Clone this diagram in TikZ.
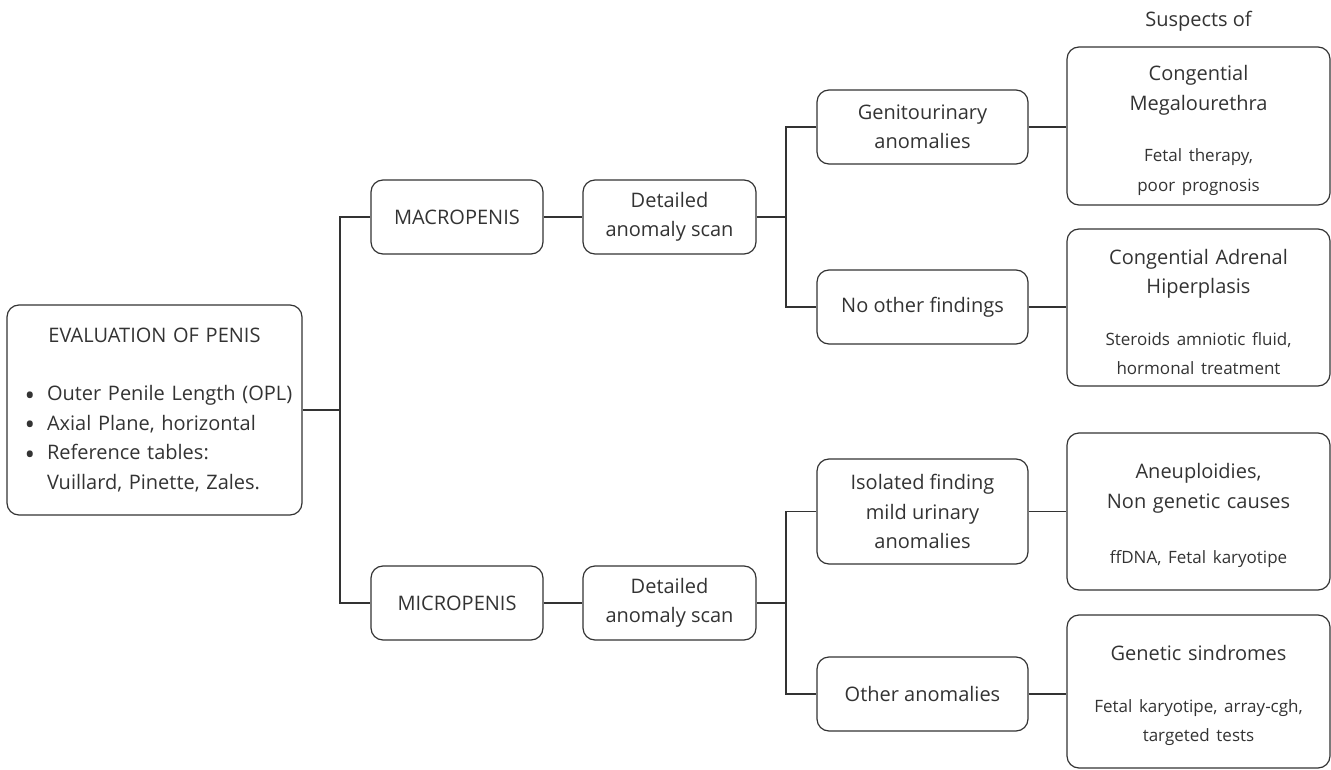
\documentclass[tikz,border=0pt]{standalone}
\usepackage{fontspec}
\setmainfont{Open Sans}
\usepackage{tikz}
\usetikzlibrary{calc}
\setlength{\parindent}{0pt}
\definecolor{ink}{HTML}{333333}
\newcommand{\titlefont}{\fontsize{20}{29.5}\selectfont}
\newcommand{\notefont}{\fontsize{17}{25.5}\selectfont}
\newcommand{\dotitem}{\hspace*{10pt}\makebox[22.5pt][l]{\raisebox{-4.5pt}[0pt][0pt]{\fontsize{28}{0}\selectfont\textbullet}}}
\newcommand{\noitem}{\hspace*{10pt}\makebox[22.5pt][l]{}}
\newcommand{\toppad}{\rule{0pt}{24pt}}
\tikzset{
	box/.style={draw=ink, line width=1.2pt, rounded corners=12pt, text=ink, align=center, inner sep=0pt, font=\titlefont},
	stepbox/.style={box, minimum width=172pt, minimum height=74pt},
	findbox/.style={box, minimum width=211pt, minimum height=74pt},
	suspbox/.style={box, minimum width=263pt, text width=258pt},
	link/.style={draw=ink, line width=1.2pt},
}

\begin{document}
\begin{tikzpicture}[x=1pt, y=-1pt]
		%%%%% START %%%%%
		\useasboundingbox (0,0) rectangle (1331,770);
		
		\node[box, minimum width=295pt, minimum height=210pt, text width=280pt] (eval) at (154.5,410) {EVALUATION OF PENIS\par\vspace{28.5pt}\raggedright
			\dotitem Outer Penile Length (OPL)\\
			\dotitem Axial Plane, horizontal\\
			\dotitem Reference tables:\\
			\noitem Vuillard, Pinette, Zales.\par};
		
		\node[stepbox] (macro) at (457,217) {MACROPENIS};
		\node[stepbox, minimum width=173pt] (detA) at (669.5,217) {Detailed\\anomaly scan};
		\node[stepbox] (micro) at (457,603) {MICROPENIS};
		\node[stepbox, minimum width=173pt] (detB) at (669.5,603) {Detailed\\anomaly scan};
		
		\node[findbox] (genito) at (922.5,127) {Genitourinary\\anomalies};
		\node[findbox] (nofind) at (922.5,307) {No other findings};
		\node[findbox, minimum height=105pt] (isol) at (922.5,511.5) {Isolated finding\\mild urinary\\anomalies};
		\node[findbox] (other) at (922.5,694) {Other anomalies};
		
		\node[text=ink, font=\titlefont] (suspects) at (1198.5,21) {Suspects of};
		\node[suspbox, minimum height=158pt] (megal) at (1198.5,126) {\toppad Congential\\Megalourethra\par\vspace{26pt}\notefont Fetal therapy,\\poor prognosis};
		\node[suspbox, minimum height=157pt] (adren) at (1198.5,307.5) {\toppad Congential Adrenal\\Hiperplasis\par\vspace{26pt}\notefont Steroids amniotic fluid,\\hormonal treatment};
		\node[suspbox, minimum height=157pt] (aneu) at (1198.5,511.5) {\toppad Aneuploidies,\\Non genetic causes\par\vspace{26pt}\notefont ffDNA, Fetal karyotipe};
		\node[suspbox, minimum height=153pt] (genet) at (1198.5,691.5) {\toppad Genetic sindromes\par\vspace{26pt}\notefont Fetal karyotipe, array-cgh,\\targeted tests};
		
		% tree lines
		\coordinate (trunk) at (340,410);
		\coordinate (forkA) at (786,217);
		\coordinate (forkB) at (786,603);
		
		\draw[link] (eval.east) -- (trunk);
		\draw[link] (macro.west) -| (trunk) |- (micro.west);
		
		\draw[link] (macro) -- (detA);
		\draw[link] (detA) -- (forkA);
		\draw[link] (genito.west) -| (forkA) |- (nofind.west);
		\draw[link] (genito) -- (genito -| megal.west);
		\draw[link] (nofind) -- (nofind -| adren.west);
		
		\draw[link] (micro) -- (detB);
		\draw[link] (detB) -- (forkB);
		\draw[link] (isol.west) -| (forkB) |- (other.west);
		\draw[link] (isol) -- (isol -| aneu.west);
		\draw[link] (other) -- (other -| genet.west);
		
		%%%%% END %%%%%
	\end{tikzpicture}
\end{document}
